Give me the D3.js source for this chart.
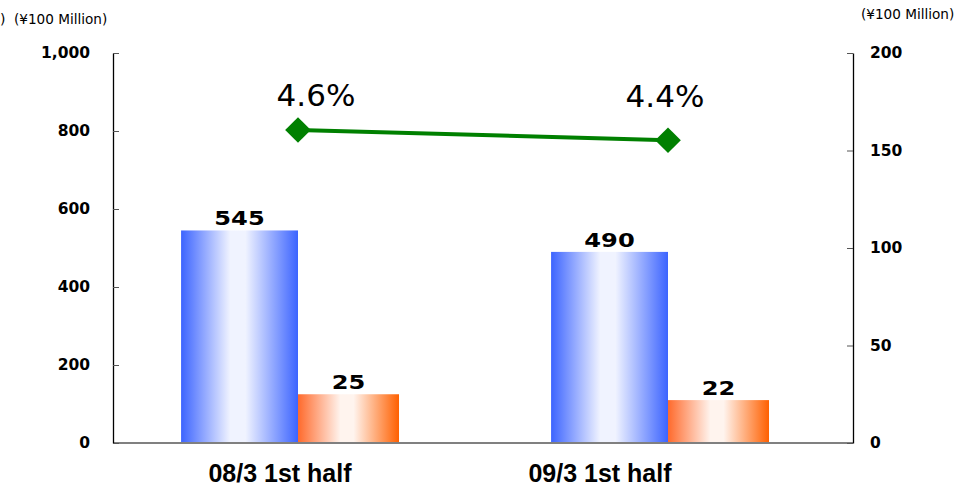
<!DOCTYPE html>
<html>
<head>
<meta charset="utf-8">
<script src="https://cdn.jsdelivr.net/npm/d3@7"></script>
<style>
body { margin: 0; background: #fff; }
svg { display: block; }
</style>
</head>
<body>
<svg id="chart" width="972" height="487"></svg>
<script>
// chart data
var categories = ["08/3 1st half", "09/3 1st half"];
var sales = [545, 490];          // left axis, bars (blue)
var income = [25, 22];           // right axis, bars (orange)
var margin = [4.6, 4.4];         // line (%)
var leftTicks = [0, 200, 400, 600, 800, 1000];
var rightTicks = [0, 50, 100, 150, 200];
var unitLabel = "(¥100 Million)";

var svg = d3.select("#chart");
var plot = { left: 113, right: 853, top: 53, bottom: 443 };

var x = d3.scaleBand()
    .domain(categories)
    .range([plot.left, plot.right]);

var yLeft = d3.scaleLinear().domain([0, 1000]).range([plot.bottom, plot.top]);
var yRight = d3.scaleLinear().domain([0, 200]).range([plot.bottom, plot.top]);
var yPct = d3.scaleLinear().domain([-1.5, 6.1]).range([plot.bottom, plot.top]);

var blueWidth = x.bandwidth() * 0.316;
var orangeWidth = x.bandwidth() * 0.273;

function center(c) { return x(c) + x.bandwidth() / 2; }

// gradients
var defs = svg.append("defs");
function grad(id, edgeL, mid, edgeR)
{
    var g = defs.append("linearGradient").attr("id", id)
        .attr("x1", "0%").attr("x2", "100%").attr("y1", "0%").attr("y2", "0%");
    g.append("stop").attr("offset", "0%").attr("stop-color", edgeL);
    g.append("stop").attr("offset", "42%").attr("stop-color", mid);
    g.append("stop").attr("offset", "55%").attr("stop-color", mid);
    g.append("stop").attr("offset", "100%").attr("stop-color", edgeR);
}
grad("blueGrad", "#3c64ff", "#f0f3ff", "#3c64ff");
grad("orangeGrad", "#ff6a2c", "#fff4ee", "#ff6000");

// bars
svg.selectAll(".blue")
    .data(categories)
    .enter().append("rect")
    .attr("class", "blue")
    .attr("x", function(d) { return center(d) - blueWidth; })
    .attr("width", blueWidth)
    .attr("y", function(d, i) { return yLeft(sales[i]); })
    .attr("height", function(d, i) { return plot.bottom - yLeft(sales[i]); })
    .attr("fill", "url(#blueGrad)");

svg.selectAll(".orange")
    .data(categories)
    .enter().append("rect")
    .attr("class", "orange")
    .attr("x", function(d) { return center(d); })
    .attr("width", orangeWidth)
    .attr("y", function(d, i) { return yRight(income[i]); })
    .attr("height", function(d, i) { return plot.bottom - yRight(income[i]); })
    .attr("fill", "url(#orangeGrad)");

// baseline
svg.append("line")
    .attr("x1", plot.left).attr("x2", plot.right)
    .attr("y1", plot.bottom).attr("y2", plot.bottom)
    .attr("stroke", "#808080").attr("stroke-width", 2);

// axes
var leftAxis = d3.axisLeft(yLeft)
    .tickValues(leftTicks)
    .tickFormat(d3.format(","))
    .tickSizeInner(-6).tickSizeOuter(0).tickPadding(23);

var rightAxis = d3.axisRight(yRight)
    .tickValues(rightTicks)
    .tickSizeInner(-6).tickSizeOuter(0).tickPadding(17);

[[leftAxis, plot.left], [rightAxis, plot.right]].forEach(function(a)
{
    var g = svg.append("g")
        .attr("transform", "translate(" + a[1] + ",0)")
        .call(a[0]);
    g.select(".domain").attr("stroke", "#000").attr("stroke-width", 1.3);
    g.selectAll(".tick line").attr("stroke", "#555");
    g.selectAll(".tick text")
        .attr("fill", "#000")
        .style("font-family", "DejaVu Sans")
        .style("font-weight", "bold")
        .style("font-size", "15.5px");
});

// bar value labels
function valueLabels(cls, values, scale, offset)
{
    svg.selectAll("." + cls)
        .data(categories)
        .enter().append("text")
        .attr("class", cls)
        .attr("x", function(d) { return center(d) + offset; })
        .attr("y", function(d, i) { return scale(values[i]) - 5; })
        .attr("text-anchor", "middle")
        .attr("textLength", function(d, i) { return String(values[i]).length * 16.8; })
        .attr("lengthAdjust", "spacingAndGlyphs")
        .style("font-family", "DejaVu Sans")
        .style("font-weight", "bold")
        .style("font-size", "19px")
        .text(function(d, i) { return values[i]; });
}
valueLabels("blueLabel", sales, yLeft, -blueWidth / 2);
valueLabels("orangeLabel", income, yRight, orangeWidth / 2);

// margin line
var line = d3.line()
    .x(function(d, i) { return center(categories[i]); })
    .y(function(d) { return yPct(d); });

svg.append("path")
    .datum(margin)
    .attr("d", line)
    .attr("fill", "none")
    .attr("stroke", "#008000")
    .attr("stroke-width", 4);

svg.selectAll(".marker")
    .data(margin)
    .enter().append("path")
    .attr("class", "marker")
    .attr("d", d3.symbol(d3.symbolSquare, 330))
    .attr("transform", function(d, i)
    {
        return "translate(" + center(categories[i]) + "," + yPct(d) + ") rotate(45)";
    })
    .attr("fill", "#008000");

var pctShift = [[18, -24], [-3, -33]];
svg.selectAll(".pct")
    .data(margin)
    .enter().append("text")
    .attr("class", "pct")
    .attr("x", function(d, i) { return center(categories[i]) + pctShift[i][0]; })
    .attr("y", function(d, i) { return yPct(d) + pctShift[i][1]; })
    .attr("text-anchor", "middle")
    .style("font-family", "DejaVu Sans")
    .style("font-size", "31px")
    .text(function(d) { return d.toFixed(1) + "%"; });

// category labels
var catShift = [-18, -68];
svg.selectAll(".cat")
    .data(categories)
    .enter().append("text")
    .attr("class", "cat")
    .attr("x", function(d, i) { return center(d) + catShift[i]; })
    .attr("y", 482)
    .attr("text-anchor", "middle")
    .style("font-family", "Liberation Sans")
    .style("font-weight", "bold")
    .style("font-size", "25px")
    .text(function(d) { return d; });

// unit labels
svg.append("text")
    .attr("x", 0).attr("y", 24)
    .style("font-family", "DejaVu Sans").style("font-size", "14px")
    .text(")");
svg.append("text")
    .attr("x", 14).attr("y", 24)
    .style("font-family", "DejaVu Sans").style("font-size", "13.6px")
    .text(unitLabel);
svg.append("text")
    .attr("x", 861).attr("y", 19)
    .style("font-family", "DejaVu Sans").style("font-size", "13.6px")
    .text(unitLabel);
</script>
</body>
</html>
